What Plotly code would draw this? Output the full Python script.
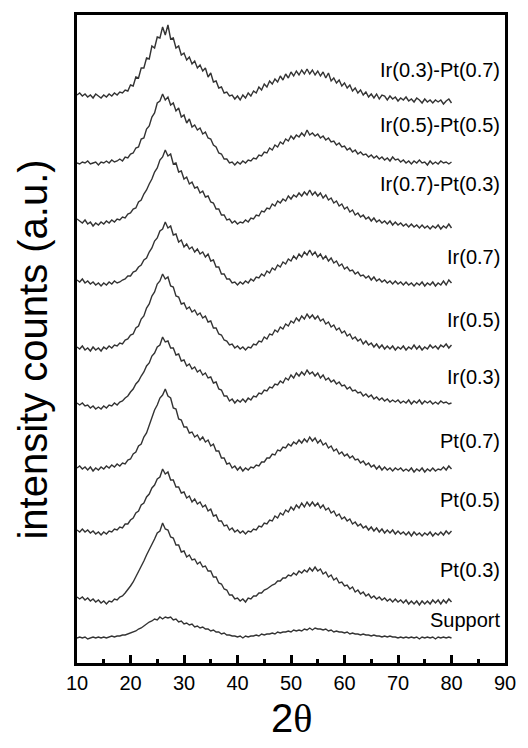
import plotly.graph_objects as go

# 2-theta scan grid (degrees)
two_theta_start = 10.0
two_theta_step = 0.5

sample_names = ["Ir(0.3)-Pt(0.7)", "Ir(0.5)-Pt(0.5)", "Ir(0.7)-Pt(0.3)", "Ir(0.7)", "Ir(0.5)",
                "Ir(0.3)", "Pt(0.7)", "Pt(0.5)", "Pt(0.3)", "Support"]
# vertical stacking offsets (a.u.)
offsets = [568, 500, 443, 383, 316, 260, 195, 133, 66, 25]
# label heights (a.u.)
label_y = [593, 538, 479, 406, 343, 286, 222, 163, 93, 43]

ir03_pt07 = [0, 2, -1, 1, -2, 0, -3, 1, -1, -3, 0, -2, 1, -1, 2, 0, 3, 2, 5, 4, 10, 9, 18, 17, 27, 27,
             37, 36, 49, 47, 58, 57, 68, 60, 70, 56, 57, 47, 49, 40, 42, 35, 38, 31, 34, 27, 30, 24, 27,
             18, 22, 13, 14, 7, 8, 2, 3, -1, 0, -4, -1, -5, 0, -3, 2, -1, 4, 2, 8, 5, 11, 8, 14, 11, 16,
             13, 19, 15, 21, 17, 23, 19, 24, 20, 25, 21, 26, 21, 25, 20, 24, 19, 23, 17, 22, 14, 17, 12,
             15, 9, 12, 7, 10, 4, 7, 2, 5, 0, 3, -2, 1, -3, 1, -4, 0, -1, -5, -1, -4, -2, -6, -3, -5, -2,
             -6, -4, -7, -3, -5, -8, -4, -7, -5, -8, -5, -7, -5, -9, -6, -4, -8]
ir05_pt05 = [0, -1, 1, 0, 2, -1, 0, 1, -2, 1, 0, 2, 0, 3, 1, 2, 4, 2, 6, 5, 9, 10, 15, 16, 24, 25,
             34, 37, 46, 50, 60, 62, 69, 63, 66, 58, 60, 52, 55, 46, 48, 40, 44, 36, 38, 33, 35, 29, 31,
             25, 24, 18, 16, 10, 9, 4, 4, 0, 1, -2, 1, -1, 2, 0, 3, 2, 5, 4, 8, 7, 11, 10, 15, 13, 18,
             16, 21, 19, 24, 22, 27, 24, 28, 26, 30, 27, 33, 28, 30, 27, 29, 25, 27, 23, 25, 21, 22, 18,
             20, 16, 17, 13, 15, 11, 13, 9, 11, 8, 9, 6, 8, 5, 7, 4, 6, 3, 5, 2, 6, 3, 4, 1, 3, 0, 2, -1,
             2, 0, 3, 0, 1, -2, 2, -1, 1, -1, 2, 0, 1, -1, 1]
ir07_pt03 = [1, -1, -3, 0, -4, -2, -6, -3, -5, -2, -4, -1, -3, 0, -2, 1, 0, 3, 2, 6, 7, 11, 12, 18,
             20, 26, 30, 36, 41, 48, 52, 60, 63, 70, 64, 66, 56, 57, 48, 49, 41, 43, 36, 38, 32, 33, 27,
             29, 23, 24, 18, 17, 11, 11, 5, 5, 0, 1, -3, -1, -4, -2, -3, 0, -2, 2, 1, 5, 4, 9, 8, 12, 11,
             16, 14, 19, 17, 21, 19, 24, 21, 25, 23, 27, 24, 28, 25, 30, 25, 28, 24, 27, 22, 25, 20, 22,
             17, 19, 14, 16, 11, 13, 8, 10, 5, 7, 3, 5, 1, 3, -1, 2, -2, 0, -3, -1, -4, -1, -5, -2, -5,
             -3, -6, -4, -7, -4, -7, -5, -8, -5, -8, -6, -9, -6, -8, -5, -9, -6, -8, -4, -8]
ir07 = [0, -2, 1, -3, -1, -4, -2, -5, -3, -6, -3, -5, -2, -4, -1, -3, -2, 0, 1, 4, 4, 8, 9, 13, 15,
        20, 22, 28, 32, 39, 42, 49, 51, 58, 52, 54, 45, 46, 38, 40, 33, 36, 31, 33, 28, 31, 26, 28, 23,
        26, 19, 20, 13, 13, 6, 6, 1, 1, -3, -2, -5, -2, -4, -1, -3, 1, -1, 3, 2, 6, 4, 9, 7, 12, 10, 15,
        13, 18, 16, 21, 19, 24, 21, 26, 23, 28, 25, 30, 25, 28, 23, 26, 21, 24, 19, 22, 17, 19, 14, 16,
        11, 13, 9, 10, 6, 8, 4, 5, 2, 4, 0, 3, -1, 1, -2, 0, -3, -1, -4, -1, -4, -2, -5, -2, -5, -3,
        -6, -3, -5, -2, -6, -3, -5, -2, -6, -3, -5, -1, -5, 0, -3]
ir05 = [0, -2, 1, -3, -1, -4, 0, -3, -1, -4, 0, -2, 1, -1, 2, 1, 4, 3, 7, 8, 12, 13, 19, 21, 28, 31,
        39, 43, 51, 55, 63, 66, 73, 68, 70, 61, 60, 51, 50, 43, 44, 38, 40, 35, 37, 32, 34, 29, 31, 25,
        26, 19, 19, 13, 12, 7, 6, 2, 3, -1, 1, -2, 0, -3, 0, -1, 3, 2, 6, 5, 10, 8, 13, 12, 17, 15, 20,
        18, 23, 21, 26, 24, 29, 26, 31, 28, 33, 29, 32, 28, 31, 26, 28, 23, 25, 20, 22, 17, 19, 14, 16,
        11, 13, 8, 10, 6, 8, 3, 6, 2, 4, 0, 3, -1, 2, -2, 1, -2, 1, -3, 0, -2, 1, -3, 0, -2, 2, -2, 1,
        -3, 0, -2, 2, -1, 1, -2, 2, 0, 3, -1, 2]
ir03 = [0, -2, 0, -3, -2, -5, -3, -6, -4, -6, -3, -5, -2, -3, 0, -2, 1, 2, 5, 7, 11, 14, 19, 22, 27,
        31, 37, 40, 47, 50, 56, 58, 66, 61, 62, 55, 55, 48, 49, 42, 43, 37, 39, 34, 36, 31, 33, 28, 30,
        25, 26, 20, 21, 14, 13, 7, 7, 2, 4, 0, 3, 1, 4, 1, 5, 3, 7, 6, 10, 9, 13, 12, 16, 15, 19, 18,
        22, 20, 25, 23, 28, 25, 30, 27, 31, 28, 33, 29, 31, 27, 30, 25, 28, 23, 25, 21, 23, 19, 21, 17,
        18, 14, 16, 12, 13, 10, 11, 7, 9, 6, 8, 4, 6, 3, 5, 2, 4, 1, 3, 1, 3, 0, 2, 0, 3, -1, 2, 0, 3,
        -1, 2, 0, 2, -1, 1, -1, 2, 0, 1, -1, 0]
pt07 = [0, 2, -1, 1, -2, 1, -3, 0, -2, 1, -1, 2, 0, 3, 1, 4, 2, 5, 4, 8, 9, 14, 16, 22, 24, 31, 35,
        43, 49, 58, 63, 70, 73, 79, 72, 70, 60, 59, 49, 48, 41, 41, 35, 36, 31, 33, 28, 31, 26, 28, 22,
        24, 17, 17, 10, 10, 4, 5, 0, 2, -2, 1, -3, 0, -2, 1, 0, 3, 2, 6, 6, 10, 10, 14, 13, 18, 17, 21,
        20, 24, 22, 26, 24, 28, 25, 29, 26, 31, 27, 30, 25, 28, 23, 25, 20, 22, 17, 19, 14, 16, 12, 14,
        10, 12, 8, 9, 5, 7, 3, 5, 1, 3, -1, 2, -2, 1, -2, 0, -3, 0, -2, 0, -3, -1, -3, 0, -4, -1, -3,
        0, -4, -1, -3, 0, -3, -1, -2, 1, -2, 2, -1]
pt05 = [0, -2, 1, -2, 0, -3, -1, -4, -2, -5, -2, -4, -1, -2, 1, 0, 3, 2, 6, 6, 10, 12, 17, 19, 25,
        27, 33, 36, 42, 45, 51, 53, 61, 56, 58, 50, 50, 43, 43, 37, 38, 32, 34, 28, 31, 26, 28, 23, 25,
        19, 21, 14, 15, 9, 9, 4, 5, 0, 2, -2, 0, -3, -1, -4, -1, -2, 1, 0, 4, 3, 7, 6, 10, 9, 14, 12,
        17, 15, 20, 18, 23, 20, 25, 22, 27, 23, 28, 24, 28, 24, 27, 22, 25, 20, 22, 17, 19, 14, 16, 11,
        13, 9, 11, 6, 8, 4, 6, 2, 4, 0, 3, -1, 2, -2, 1, -3, 0, -3, 0, -4, -1, -4, -2, -5, -2, -6, -2,
        -5, -3, -6, -3, -5, -2, -6, -3, -5, -2, -5, -1, -4, -1]
pt03 = [0, -2, 0, -3, -1, -4, -2, -5, -3, -6, -4, -7, -4, -5, -2, -3, 0, 1, 4, 7, 11, 15, 20, 25, 31,
        36, 42, 47, 53, 58, 64, 66, 74, 68, 67, 60, 59, 52, 52, 45, 46, 40, 42, 37, 38, 33, 35, 30, 31,
        26, 26, 20, 20, 14, 13, 8, 7, 2, 2, -2, -1, -4, -2, -5, -1, -2, 1, 1, 4, 4, 7, 8, 10, 12, 13,
        16, 16, 19, 19, 22, 21, 24, 22, 26, 24, 27, 25, 29, 26, 30, 26, 28, 23, 25, 20, 22, 17, 19, 14,
        15, 11, 12, 8, 10, 5, 7, 3, 5, 1, 3, -1, 1, -2, 0, -3, -1, -4, -2, -5, -2, -5, -3, -6, -3, -7,
        -4, -7, -4, -8, -4, -7, -4, -7, -3, -6, -3, -7, -3, -6, -2, -5]
support = [0, 1, 0, 1, -1, 0, 1, 0, 1, 0, 1, 0, 1, 2, 1, 2, 2, 3, 3, 4, 5, 6, 7, 9, 10, 12, 14, 16,
           17, 19, 18, 21, 19, 21, 20, 21, 18, 19, 16, 17, 14, 15, 13, 14, 11, 12, 10, 11, 9, 9, 7, 8,
           6, 6, 4, 5, 3, 3, 2, 2, 1, 2, 0, 2, 1, 2, 2, 3, 2, 4, 3, 4, 4, 5, 4, 6, 5, 6, 6, 7, 6, 8, 7,
           8, 7, 9, 8, 10, 8, 10, 9, 9, 8, 9, 7, 8, 6, 7, 6, 6, 5, 6, 4, 5, 4, 4, 3, 4, 3, 3, 2, 3, 2,
           2, 1, 2, 1, 2, 1, 1, 0, 1, 0, 1, 0, 1, 0, 1, -1, 1, 0, 1, 0, 1, -1, 1, 0, 1, 0, 1, 0]

patterns = [ir03_pt07, ir05_pt05, ir07_pt03, ir07, ir05, ir03, pt07, pt05, pt03, support]

fig = go.Figure()
for name, vals, off in zip(sample_names, patterns, offsets):
    xs = [two_theta_start + two_theta_step * i for i in range(len(vals))]
    ys = [off + v for v in vals]
    fig.add_trace(go.Scatter(x=xs, y=ys, mode="lines", name=name,
                             line=dict(color="#333333", width=1.4), showlegend=False))

for name, ly in zip(sample_names, label_y):
    fig.add_annotation(x=0.993, y=ly, xref="paper", yref="y", text=name, showarrow=False,
                       xanchor="right", yanchor="middle",
                       font=dict(family="Liberation Sans, Arial", size=20, color="black"))

fig.add_annotation(x=-0.1016, y=0.483, xref="paper", yref="paper",
                   text="intensity counts (a.u.)", textangle=-90, showarrow=False,
                   xanchor="center", yanchor="middle",
                   font=dict(family="Liberation Sans, Arial", size=40, color="black"))
fig.add_annotation(x=0.5, y=-0.085, xref="paper", yref="paper",
                   text="2<span style='font-family:Liberation Serif'>θ</span>", showarrow=False,
                   xanchor="center", yanchor="middle",
                   font=dict(family="Liberation Sans, Arial", size=40, color="black"))

fig.update_layout(
    width=528, height=748,
    margin=dict(l=77, r=18, t=15, b=85),
    paper_bgcolor="white", plot_bgcolor="white",
    font=dict(family="Liberation Sans, Arial", color="black"),
    xaxis=dict(range=[10, 90], tickvals=[10, 20, 30, 40, 50, 60, 70, 80, 90],
               ticks="inside", ticklen=8, tickwidth=2.5, tickcolor="black",
               minor=dict(tickvals=[15, 25, 35, 45, 55, 65, 75, 85], ticks="inside",
                          ticklen=4, tickwidth=2.5, tickcolor="black"),
               showline=True, linewidth=2.5, linecolor="black", mirror=True,
               showgrid=False, zeroline=False, tickfont=dict(size=20)),
    yaxis=dict(range=[0, 648], showticklabels=False, ticks="",
               showline=True, linewidth=2.5, linecolor="black", mirror=True,
               showgrid=False, zeroline=False),
)

fig.write_html("out.html")
